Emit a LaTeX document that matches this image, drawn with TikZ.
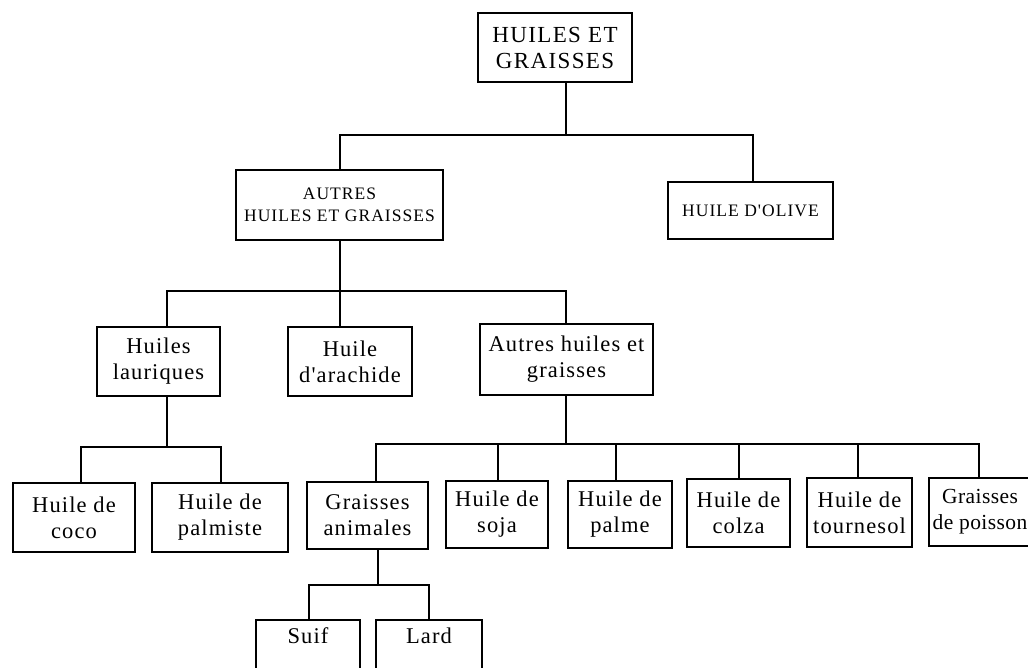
\documentclass[tikz,border=0pt]{standalone}
\usepackage{fontspec}
\setmainfont{Liberation Serif}
\newfontfamily\capfont[LetterSpace=6]{Liberation Serif}
\newfontfamily\lowfont[LetterSpace=5]{Liberation Serif}
\newfontfamily\tightfont[LetterSpace=2]{Liberation Serif}
\begin{document}
\begin{tikzpicture}[x=1pt,y=-1pt,line width=1.6pt,
  box/.style={draw,line width=1.6pt,inner sep=0pt,align=center},
  bigcap/.style={box,font=\capfont\fontsize{23}{26}\selectfont},
  smallcap/.style={box,font=\capfont\fontsize{17.5}{22}\selectfont},
  low/.style={box,font=\lowfont\fontsize{22.5}{26}\selectfont},
  lowtext/.style={font=\lowfont\fontsize{22.5}{26}\selectfont,anchor=base}]
\useasboundingbox (0,0) rectangle (1028,667);
\clip (0,0) rectangle (1028,667);
% nodes
\node[bigcap,minimum width=154pt,minimum height=69pt] (top) at (555,47.5) {HUILES ET\\GRAISSES};
\node[smallcap,minimum width=207pt,minimum height=70pt] (autres) at (339.5,205) {AUTRES\\HUILES ET GRAISSES};
\node[smallcap,minimum width=165pt,minimum height=57pt] (olive) at (750.5,210.5) {HUILE D'OLIVE};
\node[low,minimum width=123pt,minimum height=69pt] (lauriques) at (158.5,361.5) {Huiles\\lauriques};
\node[low,minimum width=124pt,minimum height=69pt] (arachide) at (350,361.5) {Huile\\d'arachide};
\node[low,minimum width=173pt,minimum height=71pt] (autreshg) at (566.5,359.5) {Autres huiles et\\graisses};
\node[low,minimum width=122pt,minimum height=69pt] (coco) at (74,517.5) {Huile de\\coco};
\node[low,minimum width=136pt,minimum height=69pt] (palmiste) at (220,517.5) {Huile de\\palmiste};
\node[low,minimum width=121pt,minimum height=67pt] (animales) at (367.5,515.5) {Graisses\\animales};
\node[low,minimum width=102pt,minimum height=67pt] (soja) at (497,514.5) {Huile de\\soja};
\node[low,minimum width=104pt,minimum height=67pt] (palme) at (620,514.5) {Huile de\\palme};
\node[low,minimum width=103pt,minimum height=68pt] (colza) at (738.5,513) {Huile de\\colza};
\node[low,minimum width=105pt,minimum height=69pt] (tournesol) at (859.5,512.5) {Huile de\\tournesol};
\node[low,minimum width=102pt,minimum height=68pt,font=\tightfont\fontsize{21.5}{26}\selectfont] (poisson) at (980,512) {Graisses\\de poisson};
\node[low,minimum width=104pt,minimum height=100pt,anchor=north] (suif) at (308,619) {};
\node[lowtext] (suift) at (308,643) {Suif};
\node[low,minimum width=106pt,minimum height=100pt,anchor=north] (lard) at (429,619) {};
\node[lowtext] (lardt) at (429,643) {Lard};
% junctions
\coordinate (b1) at (566,135);
\coordinate (b1L) at (340,135);
\coordinate (b1R) at (753,135);
\coordinate (j2) at (340,291);
\coordinate (j2L) at (167,291);
\coordinate (j2R) at (566,291);
\coordinate (j3) at (167,447);
\coordinate (j3L) at (81,447);
\coordinate (j3R) at (221,447);
\coordinate (j4) at (566,444);
\coordinate (j4a) at (376,444);
\coordinate (j4b) at (498,444);
\coordinate (j4c) at (616,444);
\coordinate (j4d) at (739,444);
\coordinate (j4e) at (858,444);
\coordinate (j4f) at (979,444);
\coordinate (j5) at (378,585);
\coordinate (j5L) at (309,585);
\coordinate (j5R) at (429,585);
% connectors
\draw (top.south -| b1) -- (b1);
\draw (b1L |- autres.north) -- (b1L) -- (b1R) -- (b1R |- olive.north);
\draw (autres.south -| j2) -- (j2 |- arachide.north);
\draw (j2L |- lauriques.north) -- (j2L) -- (j2R) -- (j2R |- autreshg.north);
\draw (lauriques.south -| j3) -- (j3);
\draw (j3L |- coco.north) -- (j3L) -- (j3R) -- (j3R |- palmiste.north);
\draw (autreshg.south -| j4) -- (j4);
\draw (j4a |- animales.north) -- (j4a) -- (j4f) -- (j4f |- poisson.north);
\draw (j4b) -- (j4b |- soja.north);
\draw (j4c) -- (j4c |- palme.north);
\draw (j4d) -- (j4d |- colza.north);
\draw (j4e) -- (j4e |- tournesol.north);
\draw (animales.south -| j5) -- (j5);
\draw (j5L |- suif.north) -- (j5L) -- (j5R) -- (j5R |- lard.north);
\end{tikzpicture}
\end{document}
